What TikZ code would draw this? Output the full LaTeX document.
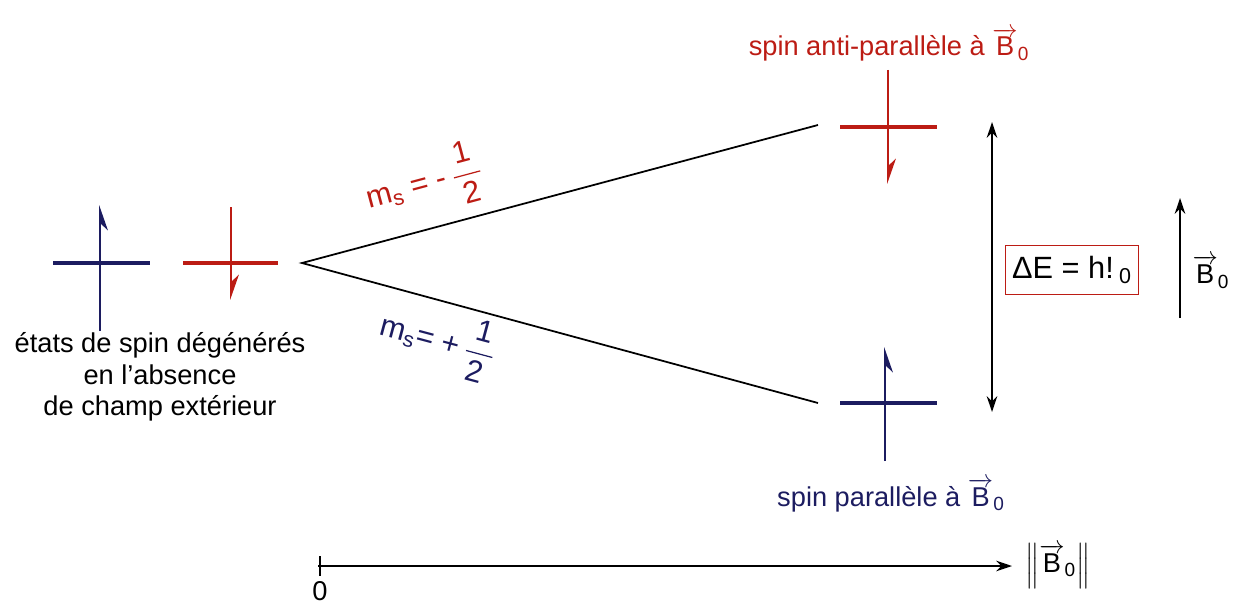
\documentclass[tikz,border=0pt]{standalone}
\usepackage{amsmath}
\usepackage{fontspec}
\setmainfont{Liberation Sans}
\usetikzlibrary{arrows.meta, positioning}
\definecolor{spinred}{RGB}{188,28,20}
\definecolor{spinblue}{RGB}{28,28,96}
\newcommand{\Bzero}{$\overrightarrow{\text{B}}$\textsubscript{0}}
\newcommand{\half}{$\genfrac{}{}{0.7pt}{0}{\,\text{1}\,}{\,\text{2}\,}$}

\begin{document}
\begin{tikzpicture}[x=0.02cm, y=-0.02cm,
    every node/.style={font=\fontsize{15.5}{18}\selectfont},
    bigtext/.style={font=\fontsize{17.5}{20}\selectfont},
    level/.style={line width=2.6pt},
    spinup/.style={line width=1pt, -{Stealth[harpoon,swap,length=13pt,width=9pt]}},
    spindown/.style={line width=1pt, -{Stealth[harpoon,length=13pt,width=9pt]}},
    axisarrow/.style={line width=1pt, -{Stealth[length=9pt,width=6pt]}}]
    \useasboundingbox (0,0) rectangle (1236,608);

    % Degenerate levels
    \draw[level, spinblue] (53,263) -- (150,263);
    \draw[level, spinred] (183,263) -- (278,263);
    \draw[spinup, spinblue] (100,331) -- (100,205);
    \draw[spindown, spinred] (231,207) -- (231,300);
    \node[align=center] (degen) at (160,377)
        {états de spin dégénérés\\en l'absence\\de champ extérieur};

    % Splitting
    \coordinate (split) at (302,263);
    \coordinate (upEnd) at (818,125);
    \coordinate (lowEnd) at (818,403);
    \draw[line width=1pt] (upEnd) -- (split) -- (lowEnd);
    \node[bigtext, spinred, rotate=15] (msminus) at (424,183)
        {m\textsubscript{s} = -\,\half};
    \node[bigtext, spinblue, rotate=-15] (msplus) at (438,340)
        {m\textsubscript{s}= +\,\half};

    % Split levels
    \draw[level, spinred] (840,127) -- (937,127);
    \draw[spindown, spinred] (888,70) -- (888,184);
    \draw[level, spinblue] (840,403) -- (937,403);
    \draw[spinup, spinblue] (885,461) -- (885,347);
    \node[spinred, anchor=base] (antipar) at (889,56) {spin anti-parallèle à \Bzero};
    \node[spinblue, anchor=base] (par) at (891,506) {spin parallèle à \Bzero};

    % Energy gap
    \coordinate (gapTop) at (992,122);
    \coordinate (gapBot) at (992,412);
    \draw[line width=1pt, {Stealth[length=9pt,width=6pt]}-{Stealth[length=9pt,width=6pt]}] (gapTop) -- (gapBot);
    \node[bigtext, draw=spinred, line width=0.6pt, inner xsep=4pt, inner ysep=6pt] (gap) at (1072,270)
        {ΔE = h!\,\textsubscript{0}};

    % Field direction
    \coordinate (fieldBot) at (1180,318);
    \coordinate (fieldTop) at (1180,198);
    \draw[axisarrow] (fieldBot) -- (fieldTop);
    \node (field) at (1211,272) {\Bzero};

    % Field axis
    \coordinate (origin) at (318,566);
    \coordinate (axisEnd) at (1012,566);
    \draw[axisarrow] (origin) -- (axisEnd);
    \draw[line width=1pt] (320,556) -- (320,576);
    \node (zero) at (320,591) {0};
    \node[right=4pt of axisEnd] (norm) {$\left\|\overrightarrow{\text{B}}_{\text{0}}\right\|$};
\end{tikzpicture}
\end{document}
